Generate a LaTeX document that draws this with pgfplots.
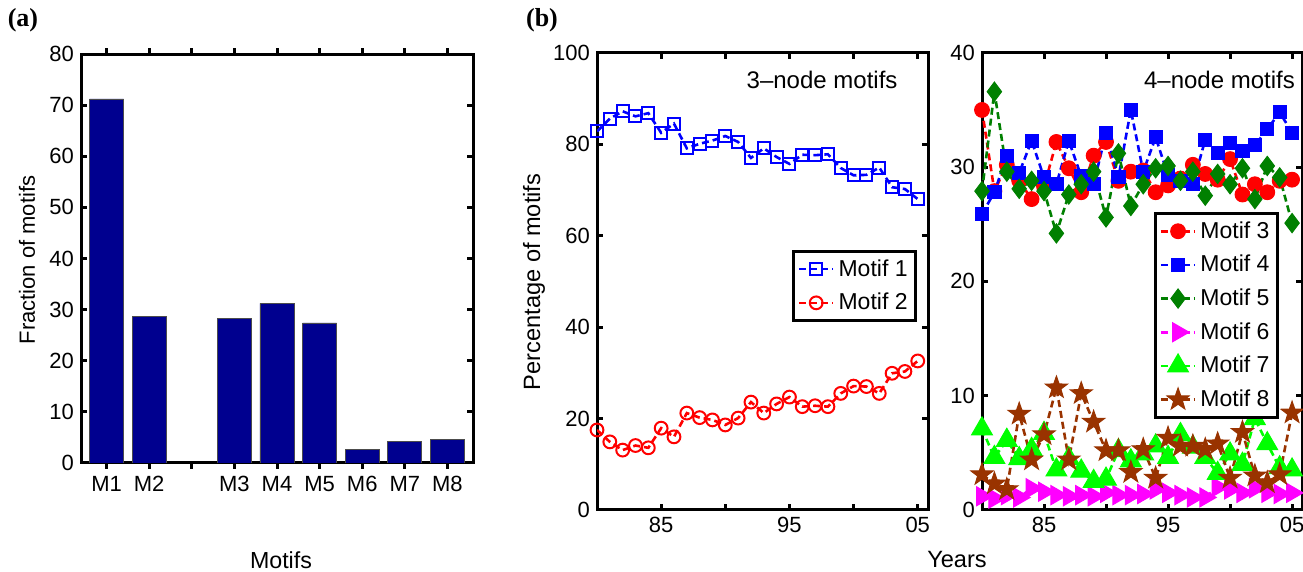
\documentclass[border=0pt]{standalone}
\usepackage{fontspec}
\setmainfont{Liberation Sans}
\newfontfamily\tagfont{Liberation Serif}
\usepackage{pgfplots}
\usepackage{pgfplotstable}
\pgfplotsset{compat=1.18}

\definecolor{barblue}{rgb}{0,0,0.5625}
\definecolor{mred}{rgb}{1,0,0}
\definecolor{mblue}{rgb}{0,0,1}
\definecolor{mgreen}{rgb}{0,0.5,0}
\definecolor{mmag}{rgb}{1,0,1}
\definecolor{mlime}{rgb}{0,1,0}
\definecolor{mbrown}{rgb}{0.6,0.2,0}

% filled five-point star (MATLAB pentagram)
\pgfdeclareplotmark{fstar}{%
  \pgfpathmoveto{\pgfpointpolar{90}{\pgfplotmarksize}}%
  \pgfpathlineto{\pgfpointpolar{126}{0.4\pgfplotmarksize}}%
  \pgfpathlineto{\pgfpointpolar{162}{\pgfplotmarksize}}%
  \pgfpathlineto{\pgfpointpolar{198}{0.4\pgfplotmarksize}}%
  \pgfpathlineto{\pgfpointpolar{234}{\pgfplotmarksize}}%
  \pgfpathlineto{\pgfpointpolar{270}{0.4\pgfplotmarksize}}%
  \pgfpathlineto{\pgfpointpolar{306}{\pgfplotmarksize}}%
  \pgfpathlineto{\pgfpointpolar{342}{0.4\pgfplotmarksize}}%
  \pgfpathlineto{\pgfpointpolar{18}{\pgfplotmarksize}}%
  \pgfpathlineto{\pgfpointpolar{54}{0.4\pgfplotmarksize}}%
  \pgfpathclose
  \pgfusepathqfillstroke
}

\pgfplotstableread{
pos val
1 71.2
2 28.6
4 28.3
5 31.2
6 27.4
7 2.7
8 4.2
9 4.6
}\bardata

\pgfplotstableread{
yr m1 m2
80 82.8 17.5
81 85.6 14.9
82 87.2 13.1
83 86.1 14.1
84 86.8 13.6
85 82.5 17.9
86 84.5 16.0
87 79.1 21.2
88 80.1 20.2
89 80.8 19.7
90 81.8 18.6
91 80.5 20.1
92 77.0 23.6
93 79.1 21.2
94 77.2 23.2
95 75.7 24.7
96 77.7 22.6
97 77.6 22.8
98 77.8 22.6
99 74.8 25.5
100 73.2 27.1
101 73.3 27.0
102 74.9 25.5
103 70.6 29.9
104 70.2 30.3
105 68.0 32.6
}\threenode

\pgfplotstableread{
yr m3 m4 m5 m6 m7 m8
80 35.0 25.9 27.9 1.2 7.1 3.1
81 27.9 27.8 36.6 1.0 4.6 2.3
82 30.2 31.0 29.6 1.3 6.1 1.8
83 28.8 29.5 28.1 1.1 4.5 8.4
84 27.2 32.3 28.8 1.9 5.3 4.4
85 28.3 29.1 27.9 1.6 6.7 6.6
86 32.2 28.5 24.2 1.3 3.5 10.7
87 29.9 32.3 27.6 1.2 4.5 4.4
88 27.8 29.2 28.5 1.3 3.4 10.2
89 31.0 28.5 29.6 1.2 2.5 7.7
90 32.2 33.0 25.6 1.5 2.7 5.2
91 28.8 29.1 31.2 1.3 5.2 5.2
92 29.6 35.0 26.6 1.3 4.3 3.3
93 29.7 29.6 28.5 1.4 4.9 5.3
94 27.8 32.6 29.9 1.8 5.6 2.8
95 28.4 29.3 30.1 1.5 4.6 6.3
96 29.0 28.8 28.8 1.3 6.6 5.6
97 30.2 28.5 29.6 1.1 5.5 5.6
98 29.4 32.4 27.5 1.1 4.6 5.3
99 28.9 31.2 29.4 2.0 3.2 5.8
100 30.7 32.1 28.5 1.8 4.9 2.8
101 27.6 31.4 29.9 1.5 4.0 6.8
102 28.5 31.9 27.2 1.9 8.0 3.0
103 27.8 33.3 30.1 1.5 5.8 2.4
104 28.8 34.8 29.1 1.4 3.7 3.1
105 28.9 33.0 25.1 1.5 3.5 8.5
}\fournode

\pgfplotsset{
  mat/.style={
    scale only axis,
    anchor=south west,
    axis line style={line width=1.5pt},
    tick style={line width=1.5pt, black},
    tick align=inside,
    major tick length=3pt,
    /pgf/number format/assume math mode=true,
    tick label style={font=\fontsize{11}{13}\selectfont},
    legend cell align=left,
    legend style={draw=black, line width=1.5pt,
      font=\fontsize{11.5}{13}\selectfont, inner xsep=2pt, inner ysep=2pt,
      row sep=3pt},
  },
  mline/.style={line width=1.3pt, dash pattern=on 3.5pt off 2pt},
}

\begin{document}
\begin{tikzpicture}
\useasboundingbox (0,0) rectangle (651.5pt,286pt);

% (a) bar chart
\begin{axis}[mat, at={(40.5pt,54.5pt)}, width=196pt, height=204.5pt,
  xmin=0.4, xmax=9.6, ymin=0, ymax=80, ytick={0,10,...,80},
  xtick={1,...,9}, xticklabels={M1,M2,,M3,M4,M5,M6,M7,M8},
  ybar, bar width=0.8]
\addplot[fill=barblue, draw=black!70, line width=0.4pt] table[x=pos,y=val] {\bardata};
\end{axis}

% (b) 3-node motifs
\begin{axis}[mat, at={(298.5pt,31pt)}, width=165.5pt, height=228.6pt,
  xmin=80, xmax=105.8, ymin=0, ymax=100, ytick={0,20,...,100},
  xtick={85,90,95,100,105}, xticklabels={85,,95,,05},
  legend style={at={(rel axis cs:0.967,0.569)}, anchor=north east}]
\addplot[mblue, mline, mark=square, mark size=3pt,
  mark options={solid, line width=1pt}] table[x=yr,y=m1] {\threenode};
\addlegendentry{Motif 1}
\addplot[mred, mline, mark=o, mark size=3.2pt,
  mark options={solid, line width=1pt}] table[x=yr,y=m2] {\threenode};
\addlegendentry{Motif 2}
\node[font=\fontsize{12}{14}\selectfont] at (rel axis cs:0.68,0.94) {3--node motifs};
\end{axis}

% (b) 4-node motifs
\begin{axis}[mat, at={(491pt,31pt)}, width=160pt, height=228.6pt,
  xmin=80, xmax=105.8, ymin=0, ymax=40, ytick={0,10,...,40},
  xtick={85,90,95,100,105}, xticklabels={85,,95,,05},
  legend style={at={(rel axis cs:0.928,0.652)}, anchor=north east}]
\addplot[mred, mline, mark=*, mark size=3.7pt,
  mark options={solid, fill=mred, line width=0.5pt}] table[x=yr,y=m3] {\fournode};
\addlegendentry{Motif 3}
\addplot[mblue, mline, mark=square*, mark size=3.3pt,
  mark options={solid, fill=mblue, line width=0.5pt}] table[x=yr,y=m4] {\fournode};
\addlegendentry{Motif 4}
\addplot[mgreen, mline, mark=diamond*, mark size=4.8pt,
  mark options={solid, fill=mgreen, line width=0.5pt}] table[x=yr,y=m5] {\fournode};
\addlegendentry{Motif 5}
\addplot[mmag, mline, mark=triangle*, mark size=5.5pt,
  mark options={solid, fill=mmag, line width=0.5pt, rotate=-90}] table[x=yr,y=m6] {\fournode};
\addlegendentry{Motif 6}
\addplot[mlime, mline, mark=triangle*, mark size=6pt,
  mark options={solid, fill=mlime, line width=0.5pt}] table[x=yr,y=m7] {\fournode};
\addlegendentry{Motif 7}
\addplot[mbrown, mline, mark=fstar, mark size=5.8pt,
  mark options={solid, fill=mbrown, line width=0.5pt}] table[x=yr,y=m8] {\fournode};
\addlegendentry{Motif 8}
\node[font=\fontsize{12}{14}\selectfont] at (rel axis cs:0.742,0.94) {4--node motifs};
\end{axis}

% labels
\node[font=\fontsize{11}{13}\selectfont, rotate=90] at (13.5pt,156pt) {Fraction of motifs};
\node[font=\fontsize{11.6}{13}\selectfont] at (140.5pt,6pt) {Motifs};
\node[font=\fontsize{11.8}{14}\selectfont, rotate=90] at (267pt,145pt) {Percentage of motifs};
\node[font=\fontsize{11.8}{14}\selectfont] at (478.5pt,6pt) {Years};
\node[font=\tagfont\bfseries\fontsize{13}{15}\selectfont] at (11.5pt,276pt) {(a)};
\node[font=\tagfont\bfseries\fontsize{13}{15}\selectfont] at (271pt,276pt) {(b)};
\end{tikzpicture}
\end{document}
